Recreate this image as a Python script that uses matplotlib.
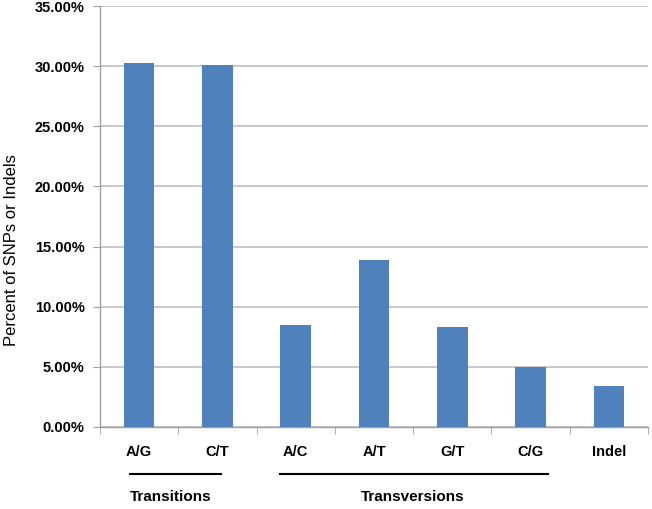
import matplotlib
matplotlib.use("Agg")
import matplotlib.pyplot as plt
from matplotlib.ticker import FuncFormatter, MultipleLocator
import numpy as np

categories = ["A/G", "C/T", "A/C", "A/T", "G/T", "C/G", "Indel"]
values = [30.25, 30.1, 8.5, 13.9, 8.3, 5.0, 3.4]
groups = [("Transitions", -0.12, 1.05), ("Transversions", 1.8, 5.22)]

plt.rcParams['font.family'] = ['Liberation Sans', 'DejaVu Sans']
fig = plt.figure(figsize=(6.52, 5.09), dpi=100)
ax = fig.add_axes([100/652, 1-427/509, 548/652, 421/509])

x = np.arange(len(categories))
ax.bar(x, values, width=0.39, color="#4F81BD", zorder=3)
ax.set_xlim(-0.5, len(categories)-0.5)
ax.set_ylim(0, 35)
ax.yaxis.set_major_locator(MultipleLocator(5))
ax.yaxis.set_major_formatter(FuncFormatter(lambda v, p: f"{v:.2f}%"))
ax.grid(axis='y', color="#C0C0C0", linewidth=1.2, zorder=0)
for s in ["top", "right"]:
    ax.spines[s].set_visible(False)
for s in ["left", "bottom"]:
    ax.spines[s].set_color("#A0A0A0")
    ax.spines[s].set_linewidth(1.0)
ax.set_xticks(x)
ax.set_xticklabels(categories, fontsize=10.5, fontweight='bold')
ax.tick_params(axis='x', length=0, pad=13)
ax.set_xticks(np.arange(-0.5, len(categories), 1.0), minor=True)
ax.tick_params(axis='x', which='minor', length=5, color="#A0A0A0", direction='out')
ax.tick_params(axis='y', length=5, color="#A0A0A0", labelsize=10.5, pad=6)
for lab in ax.get_yticklabels():
    lab.set_fontweight('bold')
ax.set_ylabel("Percent of SNPs or Indels", fontsize=12)
ax.yaxis.set_label_coords(-0.147, 0.42)

trans = ax.get_xaxis_transform()
for name, x0, x1 in groups:
    ax.plot([x0, x1], [-0.112, -0.112], transform=trans, color="black", linewidth=1.5, clip_on=False)
for name, cx in [("Transitions", 0.4), ("Transversions", 3.5)]:
    ax.text(cx, -0.167, name, transform=trans, ha='center', va='center', fontsize=11, fontweight='bold')

fig.savefig("out.png", dpi=100)
